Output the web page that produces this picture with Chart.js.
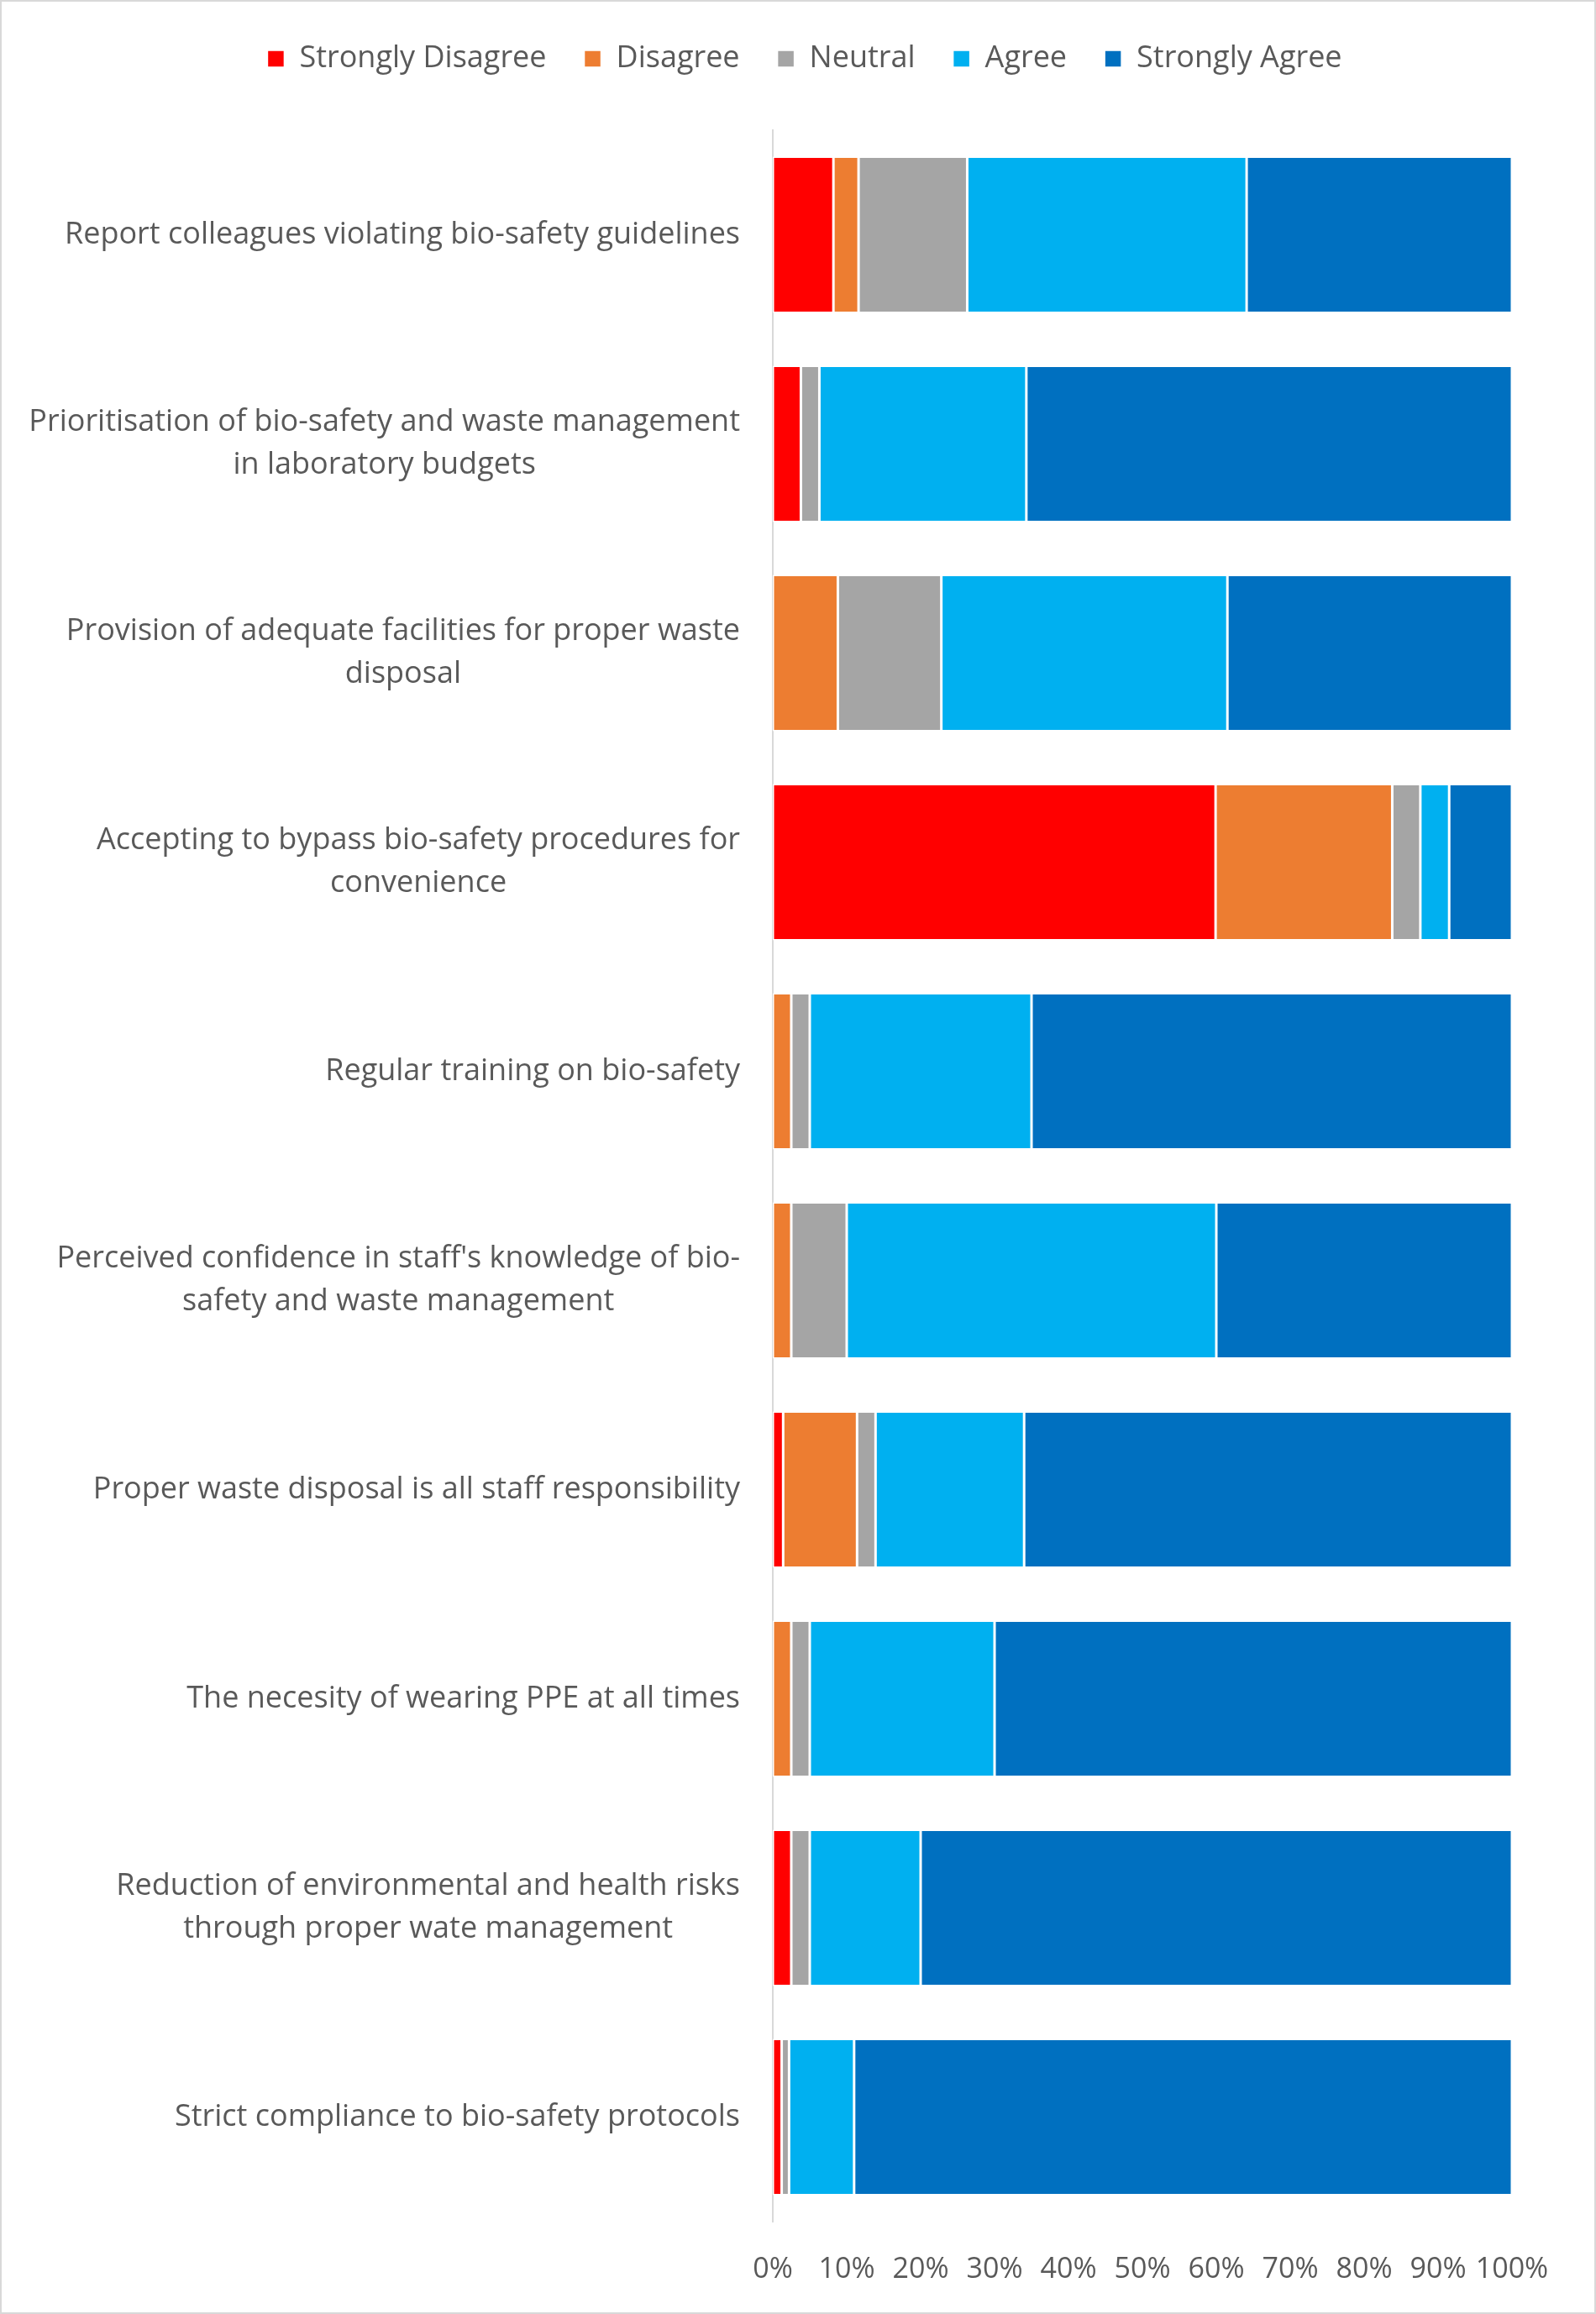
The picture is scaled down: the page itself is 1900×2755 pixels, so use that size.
<!DOCTYPE html>
<html>
<head>
<meta charset="utf-8">
<script src="https://cdn.jsdelivr.net/npm/chart.js@4.4.1/dist/chart.umd.min.js"></script>
<style>
  html, body { margin: 0; padding: 0; background: #ffffff; }
  #wrap { width: 1900px; height: 2755px; position: relative; }
  canvas { display: block; }
</style>
</head>
<body>
<div id="wrap"><canvas id="c" width="1900" height="2755"></canvas></div>
<script>
// ---- Data ----
const categories = [
  "Report colleagues violating bio-safety guidelines",
  ["Prioritisation of bio-safety and waste management", "in laboratory budgets"],
  ["Provision of adequate facilities for proper waste", "disposal"],
  ["Accepting to bypass bio-safety procedures for", "convenience"],
  "Regular training on bio-safety",
  ["Perceived confidence in staff's knowledge of bio-", "safety and waste management"],
  "Proper waste disposal is all staff responsibility",
  "The necesity of wearing PPE at all times",
  ["Reduction of environmental and health risks", "through proper wate management"],
  "Strict compliance to bio-safety protocols"
];
const seriesNames = ["Strongly Disagree", "Disagree", "Neutral", "Agree", "Strongly Agree"];
const stronglyDisagree = [8.2, 3.8, 0,    59.9, 0,    0,    1.4,  0,    2.5, 1.2];
const disagree         = [3.4, 0,   8.8,  23.9, 2.5,  2.5,  10.0, 2.5,  0,   0];
const neutral          = [14.7, 2.5, 14.0, 3.8, 2.5,  7.5,  2.5,  2.5,  2.5, 1.0];
const agree            = [37.8, 28.0, 38.7, 3.9, 30.0, 50.0, 20.1, 25.0, 15.0, 8.8];
const stronglyAgree    = [35.9, 65.7, 38.5, 8.5, 65.0, 40.0, 66.0, 70.0, 80.0, 89.0];
const xTickLabels = ["0%", "10%", "20%", "30%", "40%", "50%", "60%", "70%", "80%", "90%", "100%"];

// ---- Styles ----
const seriesColors = ["#FF0000", "#ED7D31", "#A5A5A5", "#00B0F0", "#0070C0"];
const FONT = "'Open Sans', Lato, sans-serif";
const FONT_SIZE = 36;
const TICK_FONT_SIZE = 34;
const TEXT_COLOR = "#595959";
const LABEL_GAP = 39;
const LINE_H = 51;

const seriesValues = [stronglyDisagree, disagree, neutral, agree, stronglyAgree];

const bgPlugin = {
  id: 'bg',
  beforeDraw(chart) {
    const ctx = chart.ctx;
    ctx.save();
    ctx.fillStyle = '#ffffff';
    ctx.fillRect(0, 0, chart.width, chart.height);
    ctx.strokeStyle = '#d9d9d9';
    ctx.lineWidth = 2;
    ctx.strokeRect(1, 1, chart.width - 2, chart.height - 2);
    ctx.restore();
  }
};

const legendHeightPlugin = {
  id: 'legendHeight',
  beforeInit(chart) {
    const legend = chart.legend;
    const origFit = legend.fit;
    legend.fit = function fit() {
      origFit.bind(legend)();
      this.height = 155;
    };
    const origDraw = legend.draw;
    legend.draw = function draw() {
      const ctx = this.ctx;
      ctx.save();
      ctx.translate(58, 7);
      origDraw.apply(this, arguments);
      ctx.restore();
    };
  }
};

const yLabelPlugin = {
  id: 'yLabels',
  afterDraw(chart) {
    const { ctx, chartArea } = chart;
    const y = chart.scales.y;
    ctx.save();
    ctx.font = FONT_SIZE + "px " + FONT;
    ctx.fillStyle = TEXT_COLOR;
    ctx.textBaseline = 'middle';
    ctx.textAlign = 'center';
    chart.data.labels.forEach((lab, i) => {
      const lines = Array.isArray(lab) ? lab : [lab];
      const w = Math.max(...lines.map(l => ctx.measureText(l).width));
      const cx = chartArea.left - LABEL_GAP - w / 2;
      const cy = y.getPixelForValue(i);
      const n = lines.length;
      lines.forEach((l, j) => ctx.fillText(l, cx, cy + (j - (n - 1) / 2) * LINE_H));
    });
    ctx.restore();
  }
};

new Chart(document.getElementById('c'), {
  type: 'bar',
  data: {
    labels: categories,
    datasets: seriesNames.map((name, k) => ({
      label: name,
      data: seriesValues[k],
      backgroundColor: seriesColors[k],
      borderColor: '#ffffff',
      borderWidth: 1.5,
      borderSkipped: false,
      barPercentage: 0.747,
      categoryPercentage: 1.0
    }))
  },
  options: {
    indexAxis: 'y',
    responsive: false,
    animation: false,
    devicePixelRatio: 1,
    layout: { padding: { left: 0, right: 100, top: 0, bottom: 0 } },
    plugins: {
      legend: {
        position: 'top',
        labels: {
          font: { family: FONT, size: FONT_SIZE },
          color: TEXT_COLOR,
          boxWidth: 20,
          boxHeight: 20,
          padding: 45
        }
      },
      tooltip: { enabled: false }
    },
    scales: {
      x: {
        stacked: true,
        min: 0,
        max: 100,
        grid: { display: false, drawTicks: false },
        border: { display: false },
        ticks: {
          stepSize: 10,
          padding: 37,
          color: TEXT_COLOR,
          font: { family: FONT, size: TICK_FONT_SIZE },
          maxRotation: 0,
          autoSkip: false,
          callback: (v, i) => xTickLabels[i]
        },
        afterFit(scale) { scale.height = 110; }
      },
      y: {
        stacked: true,
        grid: { display: false, drawTicks: false },
        border: { display: true, color: '#d9d9d9', width: 2 },
        ticks: { display: false },
        afterFit(scale) { scale.width = 920; }
      }
    }
  },
  plugins: [bgPlugin, legendHeightPlugin, yLabelPlugin]
});
</script>
</body>
</html>
